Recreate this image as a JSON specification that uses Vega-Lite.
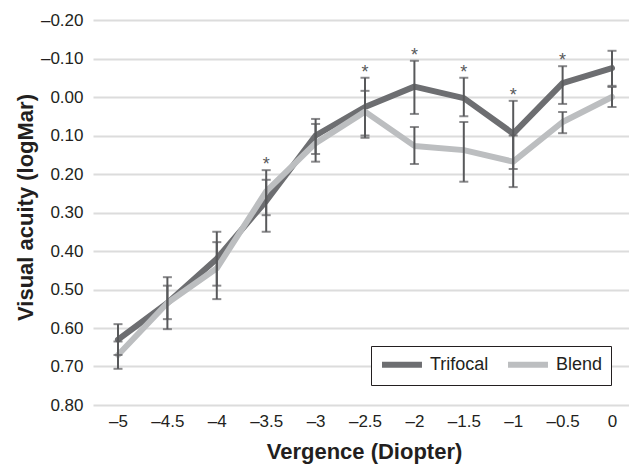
{
  "$schema": "https://vega.github.io/schema/vega-lite/v6.json",
  "width": 536,
  "height": 385,
  "autosize": {"type": "none"},
  "padding": {"left": 93, "top": 20, "right": 0, "bottom": 59},
  "background": "white",
  "config": {
    "font": "Liberation Sans",
    "view": {"stroke": null},
    "axis": {
      "labelFont": "Liberation Sans",
      "labelFontSize": 17,
      "labelColor": "#231f20",
      "labelOverlap": false,
      "titleFont": "Liberation Sans",
      "titleFontSize": 22,
      "titleFontWeight": "bold",
      "titleColor": "#231f20",
      "domain": false,
      "ticks": false
    },
    "axisY": {
      "values": [-0.2, -0.1, 0, 0.1, 0.2, 0.3, 0.4, 0.5, 0.6, 0.7, 0.8],
      "grid": true,
      "gridColor": "#dcdcdc",
      "gridWidth": 2,
      "labelPadding": 10,
      "titleX": -68,
      "titleY": 187,
      "titleAlign": "center",
      "titleBaseline": "middle"
    },
    "legend": {
      "orient": "none",
      "legendX": 278,
      "legendY": 326,
      "direction": "horizontal",
      "strokeColor": "#231f20",
      "fillColor": "white",
      "padding": 8,
      "symbolType": "M-1,0H4.33",
      "symbolStrokeWidth": 6,
      "symbolSize": 225,
      "labelFontSize": 18,
      "labelColor": "#231f20",
      "columnPadding": 7,
      "labelOffset": 30
    }
  },
  "data": {
    "values": [
      {"vergence": -5, "group": "Trifocal", "va": 0.63, "lo": 0.59, "hi": 0.67, "sig": false},
      {"vergence": -4.5, "group": "Trifocal", "va": 0.535, "lo": 0.468, "hi": 0.603, "sig": false},
      {"vergence": -4, "group": "Trifocal", "va": 0.42, "lo": 0.35, "hi": 0.49, "sig": false},
      {"vergence": -3.5, "group": "Trifocal", "va": 0.27, "lo": 0.19, "hi": 0.35, "sig": true},
      {"vergence": -3, "group": "Trifocal", "va": 0.10, "lo": 0.057, "hi": 0.148, "sig": false},
      {"vergence": -2.5, "group": "Trifocal", "va": 0.026, "lo": -0.05, "hi": 0.10, "sig": true},
      {"vergence": -2, "group": "Trifocal", "va": -0.027, "lo": -0.094, "hi": 0.044, "sig": true},
      {"vergence": -1.5, "group": "Trifocal", "va": 0.003, "lo": -0.05, "hi": 0.05, "sig": true},
      {"vergence": -1, "group": "Trifocal", "va": 0.095, "lo": 0.01, "hi": 0.187, "sig": true},
      {"vergence": -0.5, "group": "Trifocal", "va": -0.036, "lo": -0.08, "hi": 0.018, "sig": true},
      {"vergence": 0, "group": "Trifocal", "va": -0.075, "lo": -0.12, "hi": -0.029, "sig": false},
      {"vergence": -5, "group": "Blend", "va": 0.67, "lo": 0.635, "hi": 0.706, "sig": false},
      {"vergence": -4.5, "group": "Blend", "va": 0.535, "lo": 0.49, "hi": 0.577, "sig": false},
      {"vergence": -4, "group": "Blend", "va": 0.445, "lo": 0.377, "hi": 0.525, "sig": false},
      {"vergence": -3.5, "group": "Blend", "va": 0.245, "lo": 0.215, "hi": 0.307, "sig": false},
      {"vergence": -3, "group": "Blend", "va": 0.12, "lo": 0.07, "hi": 0.168, "sig": false},
      {"vergence": -2.5, "group": "Blend", "va": 0.038, "lo": -0.016, "hi": 0.106, "sig": false},
      {"vergence": -2, "group": "Blend", "va": 0.127, "lo": 0.078, "hi": 0.174, "sig": false},
      {"vergence": -1.5, "group": "Blend", "va": 0.138, "lo": 0.065, "hi": 0.22, "sig": false},
      {"vergence": -1, "group": "Blend", "va": 0.168, "lo": 0.10, "hi": 0.234, "sig": false},
      {"vergence": -0.5, "group": "Blend", "va": 0.065, "lo": 0.039, "hi": 0.094, "sig": false},
      {"vergence": 0, "group": "Blend", "va": 0.0, "lo": -0.026, "hi": 0.026, "sig": false}
    ]
  },
  "encoding": {
    "x": {
      "field": "vergence",
      "type": "quantitative",
      "scale": {"domain": [-5.253, 0.172], "nice": false, "zero": false},
      "axis": {
        "values": [-5, -4.5, -4, -3.5, -3, -2.5, -2, -1.5, -1, -0.5, 0],
        "grid": false,
        "labelPadding": 8,
        "labelExpr": "(datum.value < 0 ? '–' : '') + format(abs(datum.value), '')",
        "title": "Vergence (Diopter)",
        "titleX": 271,
        "titleY": 46,
        "titleBaseline": "middle"
      }
    }
  },
  "layer": [
    {
      "mark": {"type": "line", "strokeWidth": 6, "strokeCap": "round", "strokeJoin": "round"},
      "encoding": {
        "y": {
          "field": "va",
          "type": "quantitative",
          "scale": {"domain": [-0.2, 0.8], "reverse": true, "nice": false, "zero": false},
          "axis": {
            "title": "Visual acuity (logMar)",
            "labelExpr": "(datum.value < 0 ? '–' : '') + format(abs(datum.value), '.2f')"
          }
        },
        "color": {
          "field": "group",
          "type": "nominal",
          "sort": ["Trifocal", "Blend"],
          "scale": {"domain": ["Trifocal", "Blend"], "range": ["#6d6e71", "#bcbec0"]},
          "legend": {"title": null}
        }
      }
    },
    {
      "mark": {"type": "rule", "color": "#58595b", "strokeWidth": 2},
      "encoding": {
        "y": {"field": "lo", "type": "quantitative", "axis": {"title": "Visual acuity (logMar)", "labelExpr": "(datum.value < 0 ? '–' : '') + format(abs(datum.value), '.2f')"}},
        "y2": {"field": "hi"}
      }
    },
    {
      "mark": {"type": "tick", "orient": "horizontal", "color": "#58595b", "thickness": 2, "size": 9},
      "encoding": {"y": {"field": "lo", "type": "quantitative", "axis": {"title": "Visual acuity (logMar)", "labelExpr": "(datum.value < 0 ? '–' : '') + format(abs(datum.value), '.2f')"}}}
    },
    {
      "mark": {"type": "tick", "orient": "horizontal", "color": "#58595b", "thickness": 2, "size": 9},
      "encoding": {"y": {"field": "hi", "type": "quantitative", "axis": {"title": "Visual acuity (logMar)", "labelExpr": "(datum.value < 0 ? '–' : '') + format(abs(datum.value), '.2f')"}}}
    },
    {
      "transform": [{"filter": "datum.sig"}],
      "mark": {"type": "text", "text": "*", "fontSize": 18, "color": "#58595b", "baseline": "middle", "dy": -5},
      "encoding": {"y": {"field": "lo", "type": "quantitative", "axis": {"title": "Visual acuity (logMar)", "labelExpr": "(datum.value < 0 ? '–' : '') + format(abs(datum.value), '.2f')"}}}
    }
  ]
}
